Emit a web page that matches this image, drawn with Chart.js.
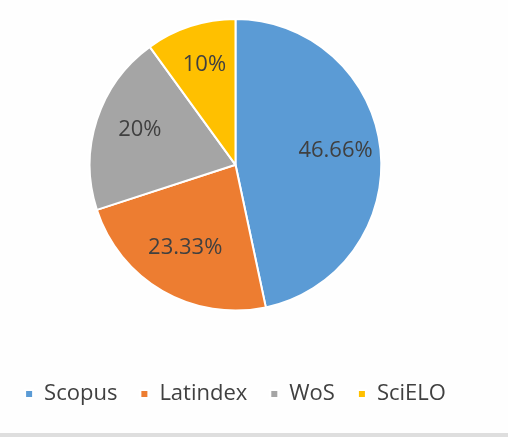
<!DOCTYPE html>
<html lang="en">
<head>
    <meta charset="UTF-8">
    <title>Sources pie</title>
    <script src="https://cdn.jsdelivr.net/npm/chart.js"></script>
    <style>
        body {
            margin: 0;
            background-color: #fefefe;
        }
        #wrap {
            position: relative;
            width: 508px;
            height: 437px;
        }
        #strip {
            position: absolute;
            left: 0;
            bottom: 0;
            width: 508px;
            height: 4px;
            background: #dedede;
        }
    </style>
</head>
<body>
    <div id="wrap">
        <canvas id="pieChart" width="508" height="437"></canvas>
        <div id="strip"></div>
    </div>

    <script>
        const categories = ['Scopus', 'Latindex', 'WoS', 'SciELO'];
        const shares = [46.66, 23.33, 20, 10];
        const shareLabels = ['46.66%', '23.33%', '20%', '10%'];
        const colors = ['#5b9bd5', '#ed7d31', '#a5a5a5', '#ffc000'];

        // draws the % labels inside each slice
        const sliceLabels = {
            id: 'sliceLabels',
            afterDatasetsDraw(chart) {
                const ctx = chart.ctx;
                const arcs = chart.getDatasetMeta(0).data;
                ctx.save();
                ctx.font = '22px "Open Sans"';
                ctx.fillStyle = '#404040';
                ctx.textAlign = 'center';
                ctx.textBaseline = 'middle';
                arcs.forEach((arc, i) => {
                    const p = arc.getProps(['x', 'y', 'startAngle', 'endAngle', 'outerRadius'], true);
                    const mid = (p.startAngle + p.endAngle) / 2;
                    const r = p.outerRadius * 0.69;
                    ctx.fillText(shareLabels[i], p.x + Math.cos(mid) * r, p.y + Math.sin(mid) * r - 4);
                });
                ctx.restore();
            }
        };

        const ctx = document.getElementById('pieChart').getContext('2d');
        const chart = new Chart(ctx, {
            type: 'pie',
            data: {
                labels: categories,
                datasets: [{
                    data: shares,
                    backgroundColor: colors,
                    borderColor: '#ffffff',
                    borderWidth: 2,
                    hoverOffset: 0
                }]
            },
            options: {
                responsive: false,
                animation: false,
                layout: {
                    padding: { top: 18, left: 0, right: 37, bottom: 22 }
                },
                plugins: {
                    tooltip: { enabled: false },
                    legend: {
                        position: 'bottom',
                        title: {
                            display: true,
                            text: ' ',
                            padding: { top: 34, bottom: 0 },
                            font: { size: 12 }
                        },
                        labels: {
                            boxWidth: 8,
                            boxHeight: 8,
                            padding: 23,
                            color: '#404040',
                            font: { family: '"Open Sans"', size: 22 }
                        }
                    }
                }
            },
            plugins: [sliceLabels]
        });
    </script>
</body>
</html>
